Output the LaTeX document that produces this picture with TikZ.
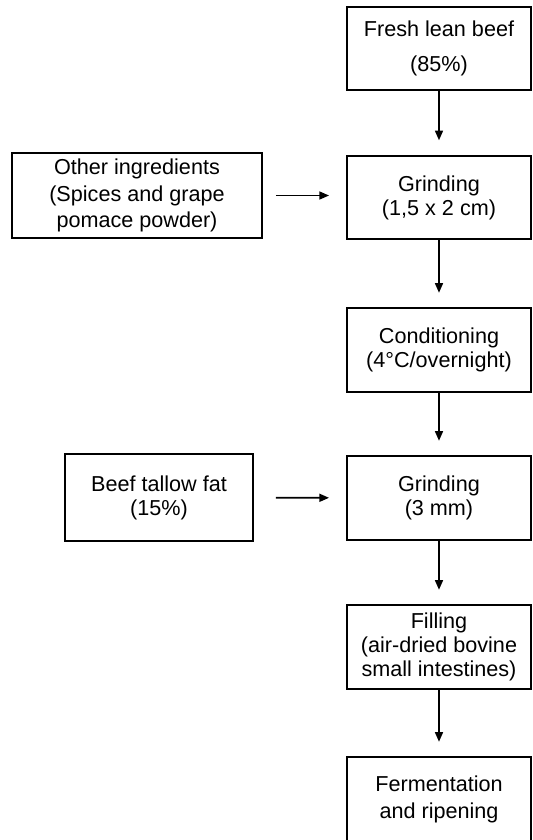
\documentclass[tikz,border=0pt]{standalone}
\usepackage{fontspec}
\setmainfont{Liberation Sans}
\usetikzlibrary{arrows.meta}
\begin{document}
\begin{tikzpicture}[x=0.02cm, y=-0.02cm,
    stepbox/.style={draw, line width=1.1pt, inner sep=0pt, align=center,
        minimum width=3.68cm, minimum height=1.67cm,
        font=\fontsize{12.3}{13.6}\selectfont},
    flow/.style={-{Triangle[length=5.5pt,width=4.5pt]}, line width=1pt,
        shorten >=0.29cm}]
    % Margenes de la figura
    \useasboundingbox (0,0) rectangle (533,840);
    % Columna principal del proceso
    \node[stepbox] (beef) at (439,48.5) {Fresh lean beef\\[6pt](85\%)};
    \node[stepbox] (grindA) at (439,197.5) {Grinding\\(1,5 x 2 cm)};
    \node[stepbox] (cond) at (439,350) {Conditioning\\(4°C/overnight)};
    \node[stepbox] (grindB) at (439,498) {Grinding\\(3 mm)};
    \node[stepbox] (fill) at (439,647) {Filling\\(air-dried bovine\\small intestines)};
    \node[stepbox] (ferm) at (439,799) {Fermentation\\[1.7pt]and ripening};
    % Ingredientes que se agregan
    \node[stepbox, minimum width=5cm, minimum height=1.7cm] (other) at (137,195.5)
        {Other ingredients\\[1.7pt](Spices and grape\\[1.7pt]pomace powder)};
    \node[stepbox, minimum width=3.76cm, minimum height=1.74cm] (tallow) at (159,497.5)
        {Beef tallow fat\\(15\%)};
    % Flechas
    \draw[flow] (beef) -- (grindA);
    \draw[flow] (grindA) -- (cond);
    \draw[flow] (cond) -- (grindB);
    \draw[flow] (grindB) -- (fill);
    \draw[flow] (fill) -- (ferm);
    \draw[flow, shorten <=0.26cm, shorten >=0.34cm] (other.east) -- (other.east -| grindA.west);
    \draw[flow, shorten <=0.44cm, shorten >=0.34cm] (tallow) -- (grindB);
\end{tikzpicture}
\end{document}
